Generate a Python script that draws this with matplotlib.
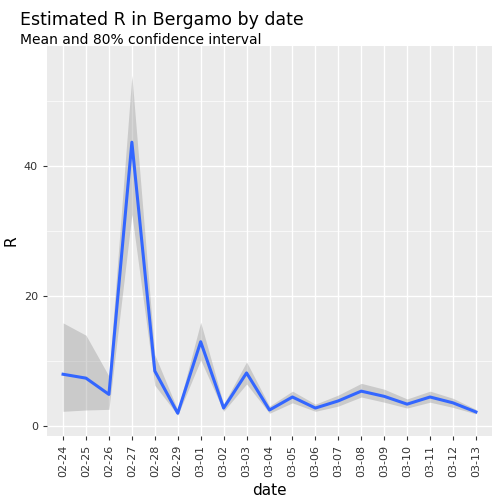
import matplotlib
matplotlib.use("Agg")
import matplotlib.pyplot as plt
import numpy as np

dates = ["02-24", "02-25", "02-26", "02-27", "02-28", "02-29", "03-01", "03-02", "03-03", "03-04",
         "03-05", "03-06", "03-07", "03-08", "03-09", "03-10", "03-11", "03-12", "03-13"]
r_mean = [8.0, 7.4, 4.9, 43.7, 8.5, 2.0, 13.0, 2.8, 8.2, 2.5, 4.5, 2.8, 3.9, 5.4, 4.6, 3.4, 4.5, 3.6, 2.2]
r_upper = [15.9, 14.0, 7.7, 54.0, 11.0, 2.5, 16.0, 3.4, 9.9, 3.1, 5.4, 3.4, 4.8, 6.6, 5.7, 4.2, 5.4, 4.3, 2.6]
r_lower = [2.3, 2.5, 2.6, 32.6, 6.3, 1.7, 10.2, 2.3, 6.5, 2.0, 3.6, 2.3, 3.1, 4.5, 3.7, 2.8, 3.7, 2.9, 1.9]

x = np.arange(len(dates))
fig = plt.figure(figsize=(5, 5), dpi=100)
ax = fig.add_axes([0.094, 0.128, 0.89, 0.78])
ax.set_facecolor("#EBEBEB")
ax.fill_between(x, r_lower, r_upper, color="#999999", alpha=0.4, linewidth=0)
ax.plot(x, r_mean, color="#3366FF", linewidth=2.2)

ax.set_xlim(-0.7, len(dates) - 0.3)
ax.set_ylim(-1.5, 58.5)
ax.set_yticks([0, 20, 40])
ax.set_yticks([10, 30, 50], minor=True)
ax.set_xticks(x)
ax.set_xticklabels(dates, rotation=90)
ax.grid(True, which="major", color="white", linewidth=1.0)
ax.grid(True, which="minor", axis="y", color="white", linewidth=0.5)
ax.set_axisbelow(True)
for s in ax.spines.values():
    s.set_visible(False)
ax.tick_params(which="both", colors="#333333", labelsize=8, length=3)
ax.tick_params(which="minor", length=0)
ax.set_xlabel("date", fontsize=11)
ax.set_ylabel("R", fontsize=11)
fig.text(0.04, 0.95, "Estimated R in Bergamo by date", fontsize=12.5)
fig.text(0.04, 0.912, "Mean and 80% confidence interval", fontsize=10)
fig.savefig("out.png")
